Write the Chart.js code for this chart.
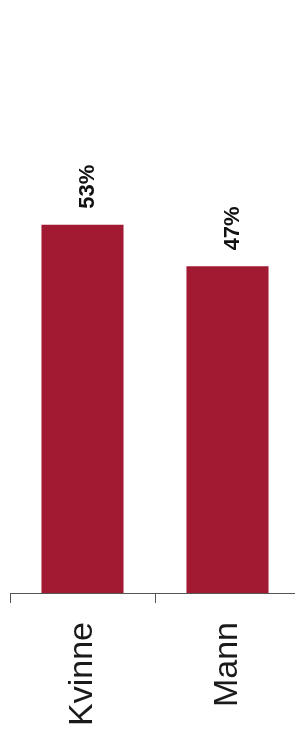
<!DOCTYPE html>
<html>
<head>
<meta charset="utf-8">
<script src="https://cdn.jsdelivr.net/npm/chart.js@4"></script>
<style>
html,body{margin:0;padding:0;background:#fff;overflow:hidden;}
#wrap{width:300px;height:740px;}
</style>
</head>
<body>
<div id="wrap"><canvas id="c" width="300" height="740"></canvas></div>
<script>
const categories = ["Kvinne", "Mann"];
const shares = [53, 47];
const valueLabels = ["53%", "47%"];

const barColor = "#A11A32";
const FONT = "'Liberation Sans', Arial, sans-serif";

const valueLabelPlugin = {
  id: "valueLabels",
  afterDatasetsDraw(chart) {
    const ctx = chart.ctx;
    const meta = chart.getDatasetMeta(0);
    ctx.save();
    ctx.font = "bold 22px " + FONT;
    ctx.fillStyle = "#111";
    ctx.textAlign = "left";
    ctx.textBaseline = "alphabetic";
    meta.data.forEach((bar, i) => {
      ctx.save();
      ctx.translate(bar.x + 11, bar.y - 16);
      ctx.rotate(-Math.PI / 2);
      ctx.fillText(valueLabels[i], 0, 0);
      ctx.restore();
    });
    ctx.restore();
  }
};

new Chart(document.getElementById("c"), {
  type: "bar",
  data: {
    labels: categories,
    datasets: [{
      data: shares,
      backgroundColor: barColor,
      borderWidth: 0,
      categoryPercentage: 1.0,
      barPercentage: 0.566
    }]
  },
  options: {
    responsive: false,
    animation: false,
    layout: { padding: { top: 37, left: 10, right: 0, bottom: -5 } },
    plugins: { legend: { display: false }, tooltip: { enabled: false } },
    scales: {
      x: {
        offset: true,
        grid: {
          offset: true,
          drawOnChartArea: false,
          drawTicks: true,
          tickLength: 10,
          color: "#555",
          lineWidth: 1
        },
        border: { display: true, color: "#555", width: 1 },
        ticks: {
          minRotation: 90,
          maxRotation: 90,
          padding: 19,
          color: "#1a1a1a",
          font: { family: FONT, size: 34 }
        }
      },
      y: {
        display: false,
        min: 0,
        max: 80
      }
    }
  },
  plugins: [valueLabelPlugin]
});
</script>
</body>
</html>
